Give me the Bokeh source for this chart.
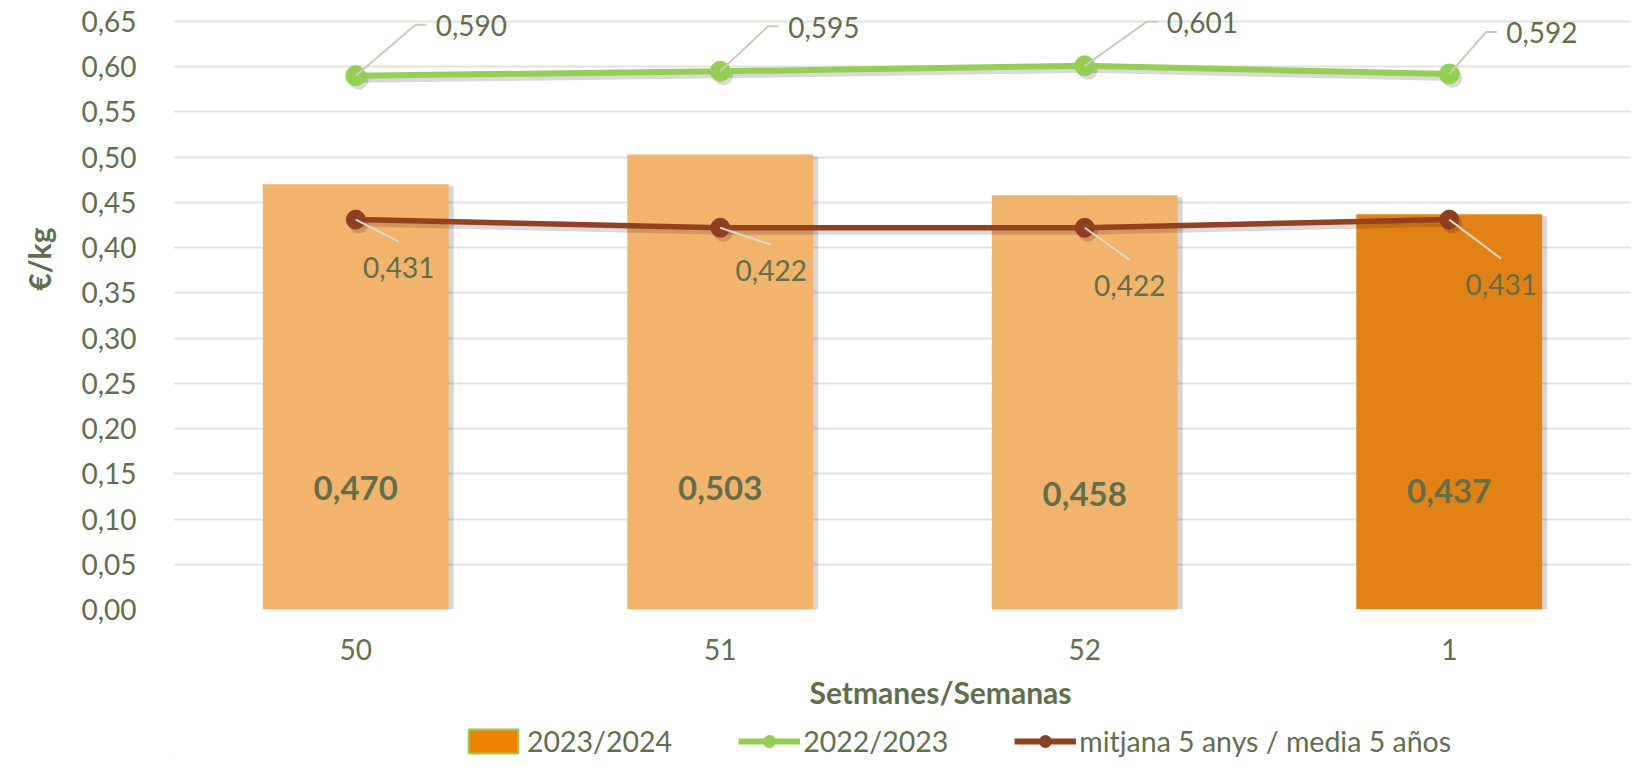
from bokeh.plotting import figure
from bokeh.layouts import column
from bokeh.models import (FactorRange, Range1d, FixedTicker, CustomJSTickFormatter,
                          Legend, LegendItem, Title, ColumnDataSource)
from bokeh.core.properties import value
from bokeh.embed import file_html
from bokeh.resources import INLINE

# ---------------- data ----------------
weeks = ["50", "51", "52", "1"]
season_2023_2024 = [0.470, 0.503, 0.458, 0.437]
season_2022_2023 = [0.590, 0.595, 0.601, 0.592]
avg_5_years = [0.431, 0.422, 0.422, 0.431]
y_ticks = [0.00, 0.05, 0.10, 0.15, 0.20, 0.25, 0.30, 0.35, 0.40, 0.45, 0.50, 0.55, 0.60, 0.65]
y_tick_labels = ["0,00", "0,05", "0,10", "0,15", "0,20", "0,25", "0,30", "0,35",
                 "0,40", "0,45", "0,50", "0,55", "0,60", "0,65"]
series_names = ["2023/2024", "2022/2023", "mitjana 5 anys / media 5 años"]
x_title = "Setmanes/Semanas"
y_title = "€/kg"

# ---------------- styles ----------------
FONT = "Lato"
TXT = "#5F6F4C"
GRID = "#E3E3DC"
BAR_LIGHT = "#F2B36D"
BAR_DARK = "#E38214"
LEG_BAR = "#F08200"
GREEN = "#92D050"
BROWN = "#95401E"
BROWN_FILL = "#8E3F20"
LEADER = "#C9CCBC"
bar_colors = [BAR_LIGHT, BAR_LIGHT, BAR_LIGHT, BAR_DARK]

W = 1631
H_MAIN, H_LEG = 723, 35
ML, MR, MT, MB = 167, 0, 0, 114
FW, FH = W - ML - MR, H_MAIN - MT - MB
TOP_GAP = 21                      # px between frame top and the 0,65 gridline
YMAX = 0.65
YTOP = YMAX * FH / (FH - TOP_GAP)
PXX = FW / len(weeks)             # px per category
PXY = FH / YTOP                   # px per value unit

# label offsets (px) relative to each point
g_text_dx = [80, 68, 82, 57]
g_text_dy = [-50, -44, -43, -41]
b_text_dx = [43, 51, 45, 52]
b_text_dy = [48, 43, 58, 65]
bar_label_dy = [122, 122, 116, 119]

fmt = lambda v: f"{v:.3f}".replace(".", ",")
xc = [i + 0.5 for i in range(len(weeks))]

p = figure(x_range=FactorRange(*weeks, range_padding=0), y_range=Range1d(0, YTOP),
           width=W, height=H_MAIN, output_backend="svg", toolbar_location=None,
           min_border_left=ML, min_border_right=MR, min_border_top=MT, min_border_bottom=MB)
p.outline_line_color = None
p.background_fill_color = "white"
p.border_fill_color = "white"
p.xgrid.grid_line_color = None
p.ygrid.grid_line_color = GRID
p.ygrid.grid_line_width = 2

p.yaxis.ticker = FixedTicker(ticks=y_ticks)
p.yaxis.formatter = CustomJSTickFormatter(args=dict(labels=y_tick_labels),
                                          code="return labels[Math.round(tick / 0.05)];")
for ax in (p.xaxis[0], p.yaxis[0]):
    ax.axis_line_color = None
    ax.major_tick_line_color = None
    ax.minor_tick_line_color = None
    ax.major_label_text_font = FONT
    ax.major_label_text_font_size = "28px"
    ax.major_label_text_color = TXT
p.yaxis.major_label_standoff = 31
p.xaxis.major_label_standoff = 23

# ---------------- bars ----------------
BW = 0.51
p.vbar(x=[x + 5 / PXX for x in xc], top=[v - 2 / PXY for v in season_2023_2024],
       width=BW, fill_color="black", fill_alpha=0.16, line_color=None)
bar_src = ColumnDataSource(dict(x=weeks, top=season_2023_2024, color=bar_colors))
p.vbar(x="x", top="top", width=BW, fill_color="color", line_color=None, source=bar_src)

# ---------------- lines (with soft shadows) ----------------
for series in (avg_5_years, season_2022_2023):
    sx = [x + 3 / PXX for x in xc]
    sy = [v - 4 / PXY for v in series]
    p.line(sx, sy, line_color="black", line_alpha=0.15, line_width=6)
    p.scatter(sx, sy, size=20, fill_color="black", fill_alpha=0.15, line_color=None)

p.line(weeks, avg_5_years, line_color=BROWN, line_width=5.5)
p.scatter(weeks, avg_5_years, size=19, fill_color=BROWN_FILL, line_color=BROWN, line_width=1)
p.line(weeks, season_2022_2023, line_color=GREEN, line_width=6)
p.scatter(weeks, season_2022_2023, size=20, fill_color=GREEN, line_color=GREEN)

# ---------------- leader lines ----------------
g_xs, g_ys = [], []
for x, v, dx, dy in zip(xc, season_2022_2023, g_text_dx, g_text_dy):
    ay_ = dy - 1
    g_xs.append([x, x + (dx - 20) / PXX, x + (dx - 9) / PXX])
    g_ys.append([v, v - ay_ / PXY, v - ay_ / PXY])
p.multi_line(g_xs, g_ys, line_color=LEADER, line_width=2)

b_xs, b_ys = [], []
for x, v, dx, dy in zip(xc, avg_5_years, b_text_dx, b_text_dy):
    b_xs.append([x, x + dx / PXX])
    b_ys.append([v, v - (dy - 26) / PXY])
p.multi_line(b_xs, b_ys, line_color="#D8DBCB", line_width=2)

# ---------------- data labels ----------------
p.text(x=xc, y=season_2022_2023, text=[fmt(v) for v in season_2022_2023],
       x_offset=g_text_dx, y_offset=g_text_dy, text_align="left", text_baseline="middle",
       text_font=value(FONT), text_font_size="28px", text_color=TXT)
p.text(x=xc, y=avg_5_years, text=[fmt(v) for v in avg_5_years],
       x_offset=b_text_dx, y_offset=b_text_dy, text_align="center", text_baseline="middle",
       text_font=value(FONT), text_font_size="28px", text_color=TXT)
p.text(x=xc, y=[0] * len(weeks), text=[fmt(v) for v in season_2023_2024],
       y_offset=[-d for d in bar_label_dy], text_align="center", text_baseline="middle",
       text_font=value(FONT), text_font_size="33px", text_font_style="bold", text_color=TXT)

# ---------------- axis titles ----------------
p.add_layout(Title(text=y_title, align="right", offset=227, vertical_align="top", standoff=40,
                   text_font=FONT, text_font_size="30px", text_font_style="bold",
                   text_color=TXT), "left")
p.add_layout(Title(text=x_title, align="left", offset=636, vertical_align="bottom", standoff=19,
                   text_font=FONT, text_font_size="30px", text_font_style="bold",
                   text_color=TXT), "below")

# ---------------- legend (own strip under the chart; frames are aligned) ----------------
q = figure(width=W, height=H_LEG, x_range=Range1d(0, 10), y_range=Range1d(0, 10),
           output_backend="svg", toolbar_location=None, x_axis_type=None, y_axis_type=None,
           min_border_left=ML, min_border_right=MR, min_border_top=0, min_border_bottom=0)
q.outline_line_color = None
q.xgrid.visible = False
q.ygrid.visible = False
# swatch renderers kept far outside the visible range: they only feed the legend
OFF = -1000
r_bar = q.vbar(x=[OFF], top=[OFF + 1], bottom=OFF, width=0.5, fill_color=LEG_BAR,
               line_color=GREEN, line_width=2)
r_gl = q.line([OFF, OFF + 1], [OFF, OFF], line_color=GREEN, line_width=6)
r_gm = q.scatter([OFF], [OFF], size=20, fill_color=GREEN, line_color=GREEN)
r_bl = q.line([OFF, OFF + 1], [OFF, OFF], line_color=BROWN, line_width=6)
r_bm = q.scatter([OFF], [OFF], size=20, fill_color=BROWN_FILL, line_color=BROWN)
legend = Legend(items=[LegendItem(label=series_names[0], renderers=[r_bar]),
                       LegendItem(label=series_names[1], renderers=[r_gl, r_gm]),
                       LegendItem(label=series_names[2], renderers=[r_bl, r_bm])],
                orientation="horizontal", location=(289, 0),
                label_text_font=FONT, label_text_font_size="28.5px", label_text_color=TXT,
                glyph_width=62, glyph_height=30, label_standoff=3, spacing=66,
                padding=0, margin=0, border_line_color=None, background_fill_alpha=0)
q.add_layout(legend)

open("out.html", "w").write(file_html(column(p, q, spacing=0), INLINE))
